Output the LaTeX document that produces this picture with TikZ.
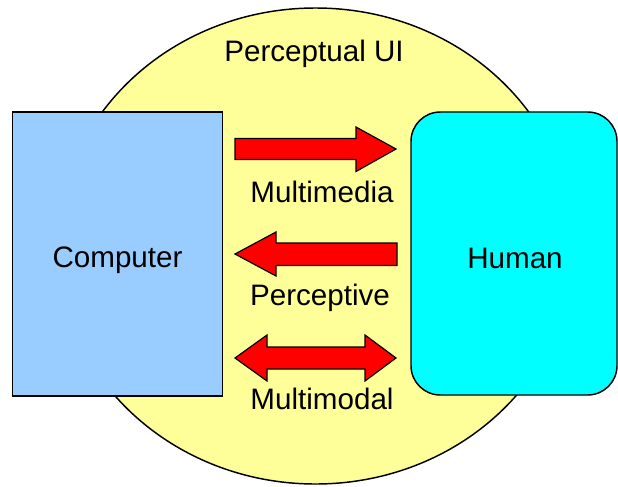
\documentclass[tikz,border=0pt]{standalone}
\usepackage{fontspec}
\setmainfont{Liberation Sans}
\usetikzlibrary{shapes.geometric}
\definecolor{bgyellow}{HTML}{FFFF99}
\definecolor{compblue}{HTML}{99CCFF}
\definecolor{humcyan}{HTML}{00FFFF}
\definecolor{arrred}{HTML}{FF0000}
\begin{document}
\begin{tikzpicture}[x=0.75pt,y=-0.75pt,
  lbl/.style={font=\fontsize{22.2pt}{24pt}\selectfont, anchor=base, inner sep=0pt},
  blockarrow/.style={fill=arrred, draw=black, line width=0.9pt, line join=miter},
  boxline/.style={draw=black, line width=1.1pt}]
\useasboundingbox (0,0) rectangle (618,486);
% background ellipse
\node[ellipse, boxline, fill=bgyellow, minimum width=387pt, minimum height=357pt, inner sep=0pt] (ui) at (315.5,246) {};
\node[lbl] (uilbl) at (314,61) {Perceptual UI};
% boxes
\node[boxline, fill=compblue, minimum width=157.5pt, minimum height=213pt, inner sep=0pt] (comp) at (117.5,254) {};
\node[lbl] (complbl) at (117.5,267) {Computer};
\node[boxline, fill=humcyan, rounded corners=22pt, minimum width=154.5pt, minimum height=212.25pt, inner sep=0pt] (hum) at (514,253.5) {};
\node[lbl] (humlbl) at (515,268) {Human};
% arrows
\draw[blockarrow] (235,138.5) -- (356,138.5) -- (356,127) -- (396,149) -- (356,171.5) -- (356,159.5) -- (235,159.5) -- cycle;
\node[lbl] (mmlbl) at (322,202) {Multimedia};
\draw[blockarrow] (397,243) -- (276,243) -- (276,232) -- (235,254) -- (276,276) -- (276,265.5) -- (397,265.5) -- cycle;
\node[lbl] (pclbl) at (320,305) {Perceptive};
\draw[blockarrow] (235,358) -- (267,335) -- (267,347) -- (365,347) -- (365,335) -- (396,358) -- (365,381) -- (365,369) -- (267,369) -- (267,381) -- cycle;
\node[lbl] (mdlbl) at (322,409) {Multimodal};
\end{tikzpicture}
\end{document}
